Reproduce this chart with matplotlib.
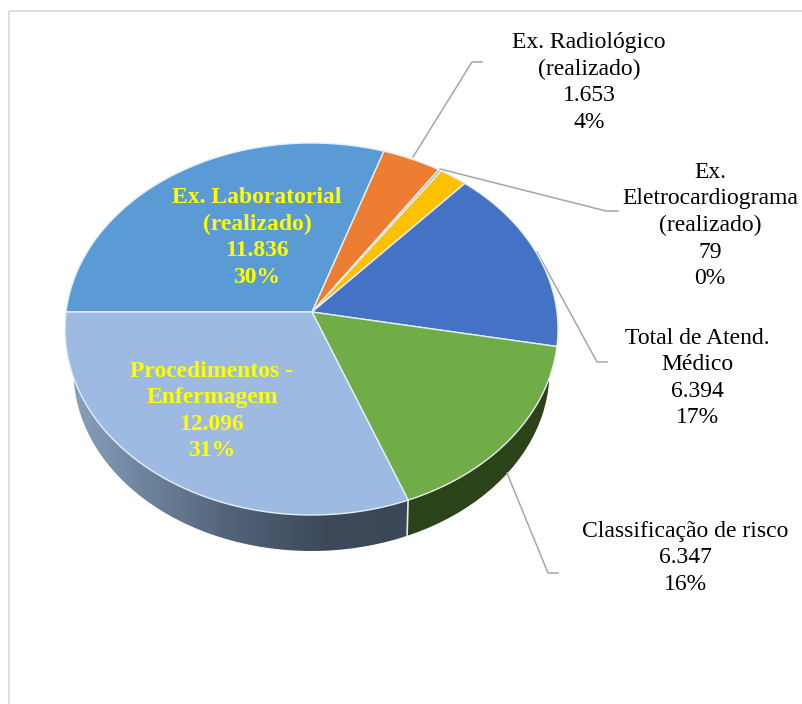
import numpy as np
import matplotlib
matplotlib.use('Agg')
import matplotlib.pyplot as plt
from matplotlib.patches import Polygon, Ellipse, Rectangle
from matplotlib.colors import LinearSegmentedColormap

plt.rcParams['font.family'] = ['Liberation Serif', 'DejaVu Serif']

# order is clockwise, starting at the left side of the pie
names = ['Ex. Laboratorial\n(realizado)', 'Ex. Radiológico\n(realizado)',
         'Ex.\nEletrocardiograma\n(realizado)', '', 'Total de Atend.\nMédico',
         'Classificação de risco', 'Procedimentos -\nEnfermagem']
values = [11836, 1653, 79, 790, 6394, 6347, 12096]
value_labels = ['11.836', '1.653', '79', '', '6.394', '6.347', '12.096']
percents = ['30%', '4%', '0%', '', '17%', '16%', '31%']
colors = ['#5b9bd5', '#ed7d31', '#a5a5a5', '#ffc000', '#4472c4', '#70ad47', '#9dbbe2']

# pie geometry on the picture, in pixels
cx, cy, a, b = 311.5, 329.0, 246.5, 186.0
apex_x, apex_y = 312.0, 312.0
apex = (apex_y - cy) / b
bx, by, ba, bb = 311.5, 371.0, 238.0, 180.0


# the tilted pie: unit circle seen in perspective, apex is not the ellipse centre
def to_screen(ang_deg):
    t = np.radians(ang_deg)
    u = np.cos(t)
    v = -np.sin(t)
    d = 1 + apex * v
    return cx + a * u * np.sqrt(1 - apex ** 2) / d, cy + b * (v + apex) / d


fig = plt.figure(figsize=(8.03, 7.04), dpi=100)
ax = fig.add_axes([0, 0, 1, 1])

# chart frame, right and bottom sides are cut off in the picture
ax.add_patch(Rectangle((9, 11), 900, 800, fill=False, ec='#d9d9d9', lw=1.2, zorder=1))

# boundaries of the slices
angles = 180 - np.cumsum([0] + values) / float(sum(values)) * 360
rim_x = to_screen(angles[6])[0]

# side of the pie
rim_colors = LinearSegmentedColormap.from_list('rim', ['#86a0bc', '#6a7f98', '#4f5f74', '#3e4a5a', '#3b4757'])
shape = Ellipse((bx, by), 2 * ba, 2 * bb, fc='none', ec='none')
ax.add_patch(shape)
img = ax.imshow(np.linspace(0, 1, 256).reshape(1, -1), cmap=rim_colors, aspect='auto',
                extent=(bx - ba, rim_x, by + bb, by - bb), zorder=2)
img.set_clip_path(shape)
green_side = Rectangle((rim_x, by - bb), bx + ba - rim_x, 2 * bb, fc='#2c431a', ec='none', zorder=2)
ax.add_patch(green_side)
green_side.set_clip_path(shape)
ax.plot([rim_x, rim_x - 1], [to_screen(angles[6])[1], 535], color='#e8e8e8', lw=1.2, zorder=3)

# top of the pie
for i in range(len(values)):
    arc = np.linspace(angles[i], angles[i + 1], 200)
    xs, ys = to_screen(arc)
    ax.add_patch(Polygon(np.column_stack([np.r_[apex_x, xs], np.r_[apex_y, ys]]),
                         fc=colors[i], ec='#e6eef8', lw=1.0, zorder=4))

# leader lines
leaders = [([413, 472, 482], [157, 62, 62]),
           ([440, 606, 618], [169, 211, 211]),
           ([537, 597, 607], [252, 362, 362]),
           ([507, 548, 558], [473, 573, 573])]
for lx, ly in leaders:
    ax.plot(lx, ly, color='#a6a6a6', lw=1.1, zorder=3, solid_joinstyle='miter')

# outside labels: slice index, centre x, y of the first line
outside = [(1, 589, 32), (2, 710, 162), (4, 697, 328), (5, 685, 521)]
for i, tx, ty in outside:
    s = names[i] + '\n' + value_labels[i] + '\n' + percents[i]
    ax.text(tx, ty, s, ha='center', va='top', ma='center', fontsize=17, color='black',
            linespacing=1.34, zorder=6)

# labels on the pie
inside = [(0, 257, 187), (6, 212, 361)]
for i, tx, ty in inside:
    s = names[i] + '\n' + value_labels[i] + '\n' + percents[i]
    ax.text(tx, ty, s, ha='center', va='top', ma='center', fontsize=17, color='#ffff00',
            fontweight='bold', linespacing=1.34, zorder=6)

ax.set_xlim(0, 803)
ax.set_ylim(704, 0)
ax.axis('off')
fig.savefig('out.png', dpi=100, facecolor='white')
